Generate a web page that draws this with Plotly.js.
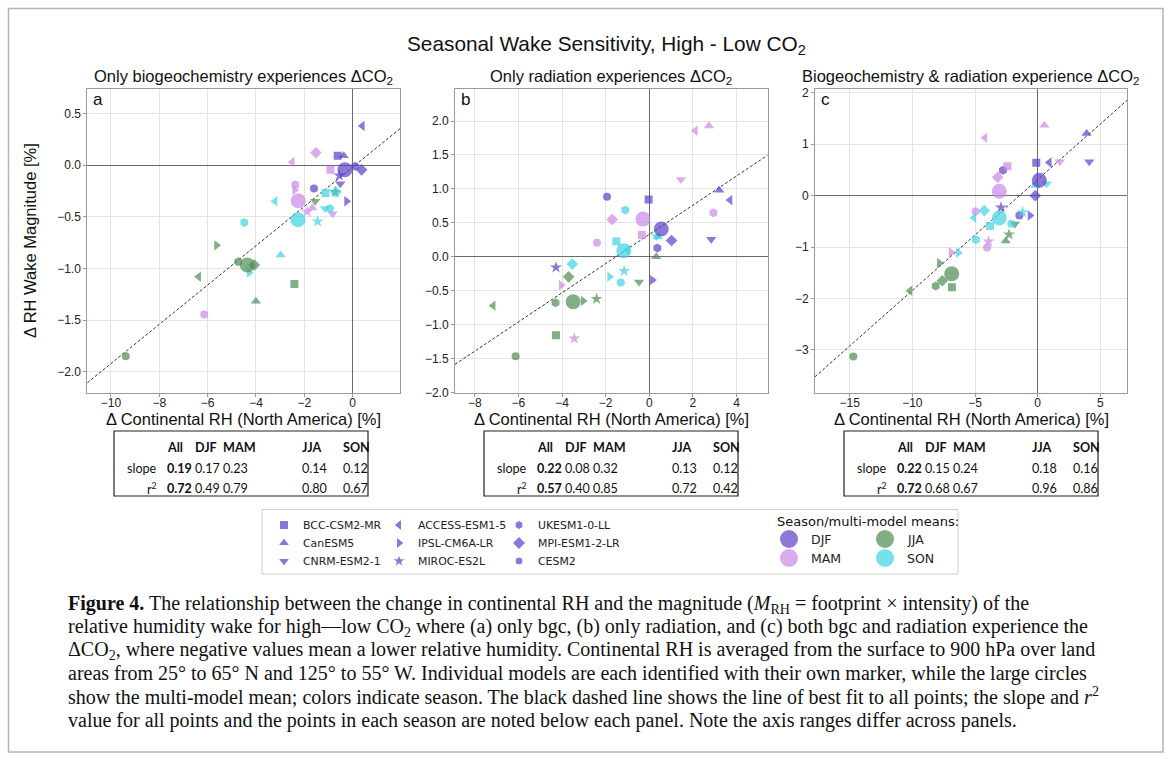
<!DOCTYPE html>
<html><head><meta charset="utf-8">
<script src="https://cdn.plot.ly/plotly-3.0.1.min.js"></script>
<style>html,body{margin:0;padding:0;background:#fff;}#chart{width:1171px;height:760px;}</style>
</head><body><div id="chart"></div>
<script>
// ---------------- DATA ----------------
const models = ["BCC-CSM2-MR","CanESM5","CNRM-ESM2-1","ACCESS-ESM1-5","IPSL-CM6A-LR","MIROC-ES2L","UKESM1-0-LL","MPI-ESM1-2-LR","CESM2"];
const seasons = ["DJF","MAM","JJA","SON"];

// Panel a: only biogeochemistry (x = ΔRH continental, y = ΔRH wake magnitude); order follows `models`
const aDJFx = [-0.62,-0.37,-0.51,0.40,-0.25,-0.55,0.10,0.37,-1.60];
const aDJFy = [0.09,0.09,-0.18,0.38,-0.35,-0.10,-0.01,-0.045,-0.225];
const aMAMx = [-0.92,-1.67,-0.83,-2.50,-2.40,-1.88,-2.37,-1.52,-6.14];
const aMAMy = [-0.045,-0.415,-0.47,0.03,-0.24,-0.45,-0.19,0.12,-1.446];
const aJJAx = [-2.41,-4.00,-1.55,-6.37,-5.63,-0.72,-4.74,-4.07,-9.39];
const aJJAy = [-1.15,-1.317,-0.35,-1.08,-0.776,-0.26,-0.934,-0.966,-1.85];
const aSONx = [-1.12,-2.98,-1.14,-3.21,-4.28,-1.45,-4.48,-0.69,-0.94];
const aSONy = [-0.27,-0.87,-0.42,-0.35,-1.04,-0.545,-0.554,-0.26,-0.42];
const aMeanX = [-0.32,-2.25,-4.36,-2.26];
const aMeanY = [-0.045,-0.345,-0.966,-0.528];

// Panel b: only radiation
const bDJFx = [-0.03,3.21,2.84,3.70,0.14,-4.28,0.37,1.02,-1.94];
const bDJFy = [0.845,0.98,0.26,0.835,-0.344,-0.157,0.128,0.24,0.885];
const bMAMx = [-0.34,2.74,1.45,2.11,-4.04,-3.44,2.94,-1.70,-2.40];
const bMAMy = [0.32,1.926,1.14,1.857,-0.42,-1.204,0.65,0.55,0.206];
const bJJAx = [-4.28,0.32,-0.47,-7.16,-3.03,-2.42,-4.30,-3.70,-6.13];
const bJJAy = [-1.155,0.0,-0.37,-0.72,-0.65,-0.62,-0.678,-0.295,-1.464];
const bSONx = [-1.51,0.40,0.33,-1.00,-1.82,-1.15,-1.10,-3.53,-1.31];
const bSONy = [0.226,0.29,0.30,0.10,-0.295,-0.21,0.69,-0.108,-0.378];
const bMeanX = [0.55,-0.29,-3.49,-1.17];
const bMeanY = [0.41,0.555,-0.663,0.088];

// Panel c: biogeochemistry & radiation
const cDJFx = [-0.11,3.91,4.12,0.93,-0.61,-2.93,-2.77,-0.19,-1.46];
const cDJFy = [0.64,1.21,0.66,0.645,-0.385,-0.23,0.495,0.0,-0.385];
const cMAMx = [-2.42,0.53,1.78,-4.20,-6.91,-3.91,-4.95,-3.19,-4.04];
const cMAMy = [0.573,1.37,0.66,1.126,-1.10,-0.89,-0.306,0.358,-1.01];
const cJJAx = [-6.84,-2.55,-1.81,-10.19,-7.85,-2.29,-8.14,-7.61,-14.71];
const cJJAy = [-1.78,-0.88,-0.55,-1.85,-1.31,-0.755,-1.76,-1.655,-3.13];
const cSONx = [-3.80,-0.16,0.72,-5.08,-6.33,-1.20,-4.92,-4.26,-2.10];
const cSONy = [-0.59,0.20,0.23,-0.43,-1.11,-0.32,-0.86,-0.29,-0.547];
const cMeanX = [0.13,-3.06,-6.86,-3.06];
const cMeanY = [0.30,0.085,-1.52,-0.435];

// Best-fit lines (all points)
const fitSlope = [0.19,0.215,0.216];
const fitIntercept = [-0.02,0.33,0.315];

// Tables under panels
const tableCols = ["All","DJF","MAM","JJA","SON"];
const slopeA = ["0.19","0.17","0.23","0.14","0.12"];
const r2A    = ["0.72","0.49","0.79","0.80","0.67"];
const slopeB = ["0.22","0.08","0.32","0.13","0.12"];
const r2B    = ["0.57","0.40","0.85","0.72","0.42"];
const slopeC = ["0.22","0.15","0.24","0.18","0.16"];
const r2C    = ["0.72","0.68","0.67","0.96","0.86"];

const panelTitles = ["Only biogeochemistry experiences ΔCO<sub>2</sub>","Only radiation experiences ΔCO<sub>2</sub>","Biogeochemistry &amp; radiation experience ΔCO<sub>2</sub>"];
const panelLetters = ["a","b","c"];
const mainTitle = "Seasonal Wake Sensitivity, High - Low CO<sub>2</sub>";
const xTitle = "Δ Continental RH (North America) [%]";
const yTitle = "Δ RH Wake Magnitude [%]";
const legendHeader = "Season/multi-model means:";
const captionLines = [
 "<b>Figure 4.</b> The relationship between the change in continental RH and the magnitude (<i>M</i><sub>RH</sub> = footprint × intensity) of the",
 "relative humidity wake for high—low CO<sub>2</sub> where (a) only bgc, (b) only radiation, and (c) both bgc and radiation experience the",
 "ΔCO<sub>2</sub>, where negative values mean a lower relative humidity. Continental RH is averaged from the surface to 900 hPa over land",
 "areas from 25° to 65° N and 125° to 55° W. Individual models are each identified with their own marker, while the large circles",
 "show the multi-model mean; colors indicate season. The black dashed line shows the line of best fit to all points; the slope and <i>r</i><sup>2</sup>",
 "value for all points and the points in each season are noted below each panel. Note the axis ranges differ across panels."
];

// ---------------- STYLE ----------------
const W = 1171, H = 760;
const X = p => p / W, Y = p => 1 - p / H;
const seasonColor = {DJF:"#5a3ec8", MAM:"#cc88e8", JJA:"#4b8b50", SON:"#3fd3e3"};
const symbols = ["square","triangle-up","triangle-down","triangle-left","triangle-right","star","hexagon","diamond","circle"];
const symSize = [8,9,9,9,9,9,9,9,8];
const legSymSize = [9,10,10,10,10,10,9,10,8];
const sans = "Liberation Sans, Arial, sans-serif";
const dejavu = "DejaVu Sans, sans-serif";
const panels = [
  {x0:87.3, x1:400, xr:[-10.98,1.96], xd:2, yr:[-2.2,0.734], yd:0.5, fmt:".1f",
   data:[[aDJFx,aDJFy],[aMAMx,aMAMy],[aJJAx,aJJAy],[aSONx,aSONy]], mx:aMeanX, my:aMeanY, slope:slopeA, r2:r2A, tblX:114},
  {x0:455, x1:767.7, xr:[-8.91,5.43], xd:2, yr:[-2.0,2.468], yd:0.5, fmt:".1f",
   data:[[bDJFx,bDJFy],[bMAMx,bMAMy],[bJJAx,bJJAy],[bSONx,bSONy]], mx:bMeanX, my:bMeanY, slope:slopeB, r2:r2B, tblX:484},
  {x0:815, x1:1127, xr:[-17.77,7.13], xd:5, yr:[-3.83,2.07], yd:1, fmt:"d",
   data:[[cDJFx,cDJFy],[cMAMx,cMAMy],[cJJAx,cJJAy],[cSONx,cSONy]], mx:cMeanX, my:cMeanY, slope:slopeC, r2:r2C, tblX:844}
];
const pTop = 89.3, pBot = 392.5;

const traces = [], annotations = [], shapes = [];
const layout = {
  width: W, height: H, margin:{l:0,r:0,t:0,b:0},
  paper_bgcolor:"#ffffff", plot_bgcolor:"rgba(0,0,0,0)", showlegend:false,
  font:{family:sans, color:"#111"}
};

panels.forEach((p, i) => {
  const n = i + 1, xa = "x" + n, ya = "y" + n;
  const axBase = {showgrid:true, gridcolor:"#e4e4e4", gridwidth:1, zeroline:true, zerolinecolor:"#6a6a6a", zerolinewidth:1.3,
    showline:true, mirror:true, linecolor:"#9a9a9a", linewidth:1, ticks:"outside", ticklen:3, tickcolor:"#9a9a9a",
    tickfont:{family:sans, size:12, color:"#222"}, fixedrange:true, tick0:0};
  layout["xaxis" + n] = Object.assign({}, axBase, {domain:[X(p.x0), X(p.x1)], range:p.xr, dtick:p.xd, anchor:ya, tickformat:"d", ticklabelstandoff:-4});
  layout["yaxis" + n] = Object.assign({}, axBase, {domain:[Y(pBot), Y(pTop)], range:p.yr, dtick:p.yd, anchor:xa, tickformat:p.fmt});
  // best-fit line
  traces.push({x:[p.xr[0], p.xr[1]], y:[fitSlope[i]*p.xr[0] + fitIntercept[i], fitSlope[i]*p.xr[1] + fitIntercept[i]],
    xaxis:xa, yaxis:ya, mode:"lines", line:{color:"#333", width:1, dash:"3px,2px"}, hoverinfo:"skip"});
  // individual models
  seasons.forEach((s, k) => {
    traces.push({x:p.data[k][0], y:p.data[k][1], text:models, xaxis:xa, yaxis:ya, mode:"markers", name:s,
      marker:{symbol:symbols, size:symSize, color:seasonColor[s], line:{width:0}}});
  });
  // multi-model means
  traces.push({x:p.mx, y:p.my, text:seasons, xaxis:xa, yaxis:ya, mode:"markers",
    marker:{symbol:"circle", size:15, color:seasons.map(s => seasonColor[s]), opacity:0.7, line:{width:0}}});
  // titles / letters / axis labels
  annotations.push({xref:"paper", yref:"paper", x:X((p.x0+p.x1)/2), y:Y(76.7), text:panelTitles[i], showarrow:false,
    xanchor:"center", yanchor:"middle", font:{family:sans, size:16.5, color:"#111"}});
  annotations.push({xref:"paper", yref:"paper", x:X(p.x0 + 4), y:Y(100), text:panelLetters[i], showarrow:false,
    xanchor:"left", yanchor:"middle", font:{family:sans, size:17, color:"#111"}});
  annotations.push({xref:"paper", yref:"paper", x:X((p.x0+p.x1)/2), y:Y(418.5), text:xTitle, showarrow:false,
    xanchor:"center", yanchor:"middle", font:{family:sans, size:16.5, color:"#111"}});
  // table
  const tx = p.tblX;
  shapes.push({type:"rect", xref:"paper", yref:"paper", x0:X(tx), x1:X(tx+254), y0:Y(431), y1:Y(496), line:{color:"#222", width:1.2}});
  const colX = [51, 79, 107, 186, 227];
  const rowY = [447, 468, 488];
  const tfont = {family:"Lato, Carlito, sans-serif", size:12.6, color:"#111"};
  tableCols.forEach((c, j) => {
    annotations.push({xref:"paper", yref:"paper", x:X(tx+colX[j]), y:Y(rowY[0]), text:"<b>"+c+"</b>", showarrow:false, xanchor:"left", yanchor:"middle", font:tfont});
    annotations.push({xref:"paper", yref:"paper", x:X(tx+colX[j]), y:Y(rowY[1]), text:j===0?"<b>"+p.slope[j]+"</b>":p.slope[j], showarrow:false, xanchor:"left", yanchor:"middle", font:tfont});
    annotations.push({xref:"paper", yref:"paper", x:X(tx+colX[j]), y:Y(rowY[2]), text:j===0?"<b>"+p.r2[j]+"</b>":p.r2[j], showarrow:false, xanchor:"left", yanchor:"middle", font:tfont});
  });
  annotations.push({xref:"paper", yref:"paper", x:X(tx+45), y:Y(rowY[1]), text:"slope", showarrow:false, xanchor:"right", yanchor:"middle", font:tfont});
  annotations.push({xref:"paper", yref:"paper", x:X(tx+45), y:Y(rowY[2]), text:"r<sup>2</sup>", showarrow:false, xanchor:"right", yanchor:"middle", font:tfont});
});

// y-axis title (panel a)
annotations.push({xref:"paper", yref:"paper", x:X(30), y:Y(241), text:yTitle, textangle:-90, showarrow:false,
  xanchor:"center", yanchor:"middle", font:{family:sans, size:16.5, color:"#111"}});
// main title
annotations.push({xref:"paper", yref:"paper", x:X(606), y:Y(45), text:mainTitle, showarrow:false,
  xanchor:"center", yanchor:"middle", font:{family:sans, size:20.8, color:"#111"}});

// ---------- legend (overlay pixel axis) ----------
layout.xaxis4 = {domain:[0,1], range:[0,W], visible:false, fixedrange:true, anchor:"y4"};
layout.yaxis4 = {domain:[0,1], range:[H,0], visible:false, fixedrange:true, anchor:"x4"};
const legColX = [284, 399, 519], legRowY = [525, 543, 561];
const legMx = [], legMy = [];
models.forEach((m, j) => {
  const c = Math.floor(j / 3), r = j % 3;
  legMx.push(legColX[c]); legMy.push(legRowY[r]);
  annotations.push({xref:"paper", yref:"paper", x:X(legColX[c] + 17), y:Y(legRowY[r]), text:m, showarrow:false,
    xanchor:"left", yanchor:"middle", font:{family:dejavu, size:10.9, color:"#222"}});
});
traces.push({x:legMx, y:legMy, xaxis:"x4", yaxis:"y4", mode:"markers", hoverinfo:"skip",
  marker:{symbol:symbols, size:legSymSize, color:seasonColor.DJF}});
const meanLegX = [789, 789, 885, 885], meanLegY = [539, 558, 539, 558];
traces.push({x:meanLegX, y:meanLegY, xaxis:"x4", yaxis:"y4", mode:"markers", hoverinfo:"skip",
  marker:{symbol:"circle", size:18, color:seasons.map(s => seasonColor[s]), opacity:0.7}});
seasons.forEach((s, k) => {
  annotations.push({xref:"paper", yref:"paper", x:X(meanLegX[k] + 20), y:Y(meanLegY[k]), text:s, showarrow:false,
    xanchor:"left", yanchor:"middle", font:{family:dejavu, size:12.5, color:"#222"}});
});
annotations.push({xref:"paper", yref:"paper", x:X(775), y:Y(521.5), text:legendHeader, showarrow:false,
  xanchor:"left", yanchor:"middle", font:{family:dejavu, size:13, color:"#111"}});
shapes.push({type:"rect", xref:"paper", yref:"paper", x0:X(262), x1:X(958), y0:Y(509.5), y1:Y(574), line:{color:"#cfcfcf", width:1}});

// ---------- caption ----------
captionLines.forEach((t, k) => {
  annotations.push({xref:"paper", yref:"paper", x:X(66), y:Y(604 + k*23.2), text:t, showarrow:false,
    xanchor:"left", yanchor:"middle", font:{family:"Liberation Serif, Times New Roman, serif", size:20, color:"#111"}});
});

// outer frame
shapes.push({type:"rect", xref:"paper", yref:"paper", x0:X(8.5), x1:X(1163), y0:Y(752), y1:Y(8.5), line:{color:"#b5b5b5", width:1.5}});

layout.annotations = annotations;
layout.shapes = shapes;
Plotly.newPlot("chart", traces, layout, {staticPlot:true, displayModeBar:false});
</script></body></html>
